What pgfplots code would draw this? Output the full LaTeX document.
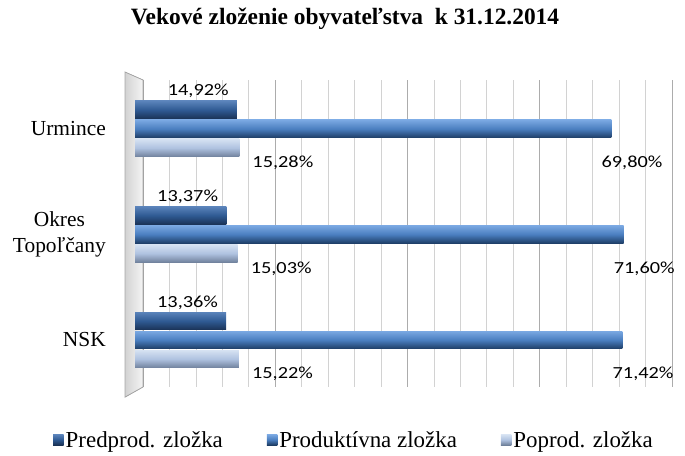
\documentclass[border=0pt]{standalone}
\usepackage{fontspec}
\setmainfont{Liberation Serif}
\newfontfamily\calibri{Carlito}[FakeStretch=1.2]
\usepackage{pgfplots}
\pgfplotsset{compat=1.18}
\definecolor{dTop}{HTML}{5A83BA}
\definecolor{dMid}{HTML}{2F5A93}
\definecolor{dBot}{HTML}{1A3255}
\definecolor{mTop}{HTML}{7AA8E2}
\definecolor{mMid}{HTML}{4A7EBF}
\definecolor{mBot}{HTML}{1D3C64}
\definecolor{lTop}{HTML}{D6E2F2}
\definecolor{lMid}{HTML}{AFC2E0}
\definecolor{lBot}{HTML}{6F809B}
\pgfplotsset{
  sqleg/.style={legend image code/.code={\path[##1] (0bp,-5bp) rectangle (10.5bp,5.5bp);}},
  dS/.style={draw=none, top color=dTop, bottom color=dBot, middle color=dMid, bar shift=-0.18, sqleg,
    every node near coord/.append style={anchor=base east, xshift=-8bp, yshift=14bp}},
  mS/.style={draw=none, top color=mTop, bottom color=mBot, middle color=mMid, bar shift=0, sqleg,
    every node near coord/.append style={anchor=north west, xshift=-10bp, yshift=-27bp}},
  lS/.style={draw=none, top color=lTop, bottom color=lBot, middle color=lMid, bar shift=0.18, sqleg,
    every node near coord/.append style={anchor=north west, xshift=13bp, yshift=-8bp}},
}
\begin{document}
\begin{tikzpicture}
\useasboundingbox (0bp,0bp) rectangle (685bp,456bp);
\node[font=\bfseries\fontsize{23.5}{27}\selectfont] at (345bp,437bp) {Vekové zloženie obyvateľstva\ \ k 31.12.2014};
% back wall with grid
\begin{axis}[at={(143bp,69bp)}, anchor=south west, scale only axis,
  width=529bp, height=307bp, xmin=0, xmax=80, ymin=0, ymax=1,
  xtick={0,20,40,60,80}, minor x tick num=4, xmajorgrids, xminorgrids,
  major grid style={gray!65, line width=0.8pt},
  minor grid style={gray!35, line width=0.8pt},
  ytick=\empty, xticklabels={}, axis line style={draw=none},
  major tick length=0pt, minor tick length=0pt, clip=false]
\fill[left color=gray!35, right color=gray!8] (axis cs:-2.72,1.026) -- (axis cs:0,1) -- (axis cs:0,0) -- (axis cs:-2.72,-0.033) -- cycle;
\draw[gray!70, line width=0.8pt] (axis cs:-2.72,1.026) -- (axis cs:0,1) -- (axis cs:0,0) -- (axis cs:-2.72,-0.033) -- cycle;
\end{axis}
% bars
\begin{axis}[at={(135bp,59bp)}, anchor=south west, scale only axis,
  width=546bp, height=324bp, xmin=0, xmax=80, ymin=-0.53, ymax=2.54,
  y dir=reverse, xbar, bar width=0.17,
  axis line style={draw=none}, major tick length=0pt, xtick=\empty,
  ytick={0,1,2}, yticklabels={Urmince,{Okres\\Topoľčany},NSK},
  yticklabel style={align=center, font=\fontsize{21.5}{26}\selectfont, inner sep=0pt, xshift=-29bp},
  clip=false, point meta=x,
  nodes near coords={\pgfmathprintnumber[fixed,fixed zerofill,precision=2,use comma,assume math mode=true]{\pgfplotspointmeta}\%},
  every node near coord/.append style={font=\calibri\fontsize{17}{20}\selectfont, inner sep=0pt, text=black},
  legend style={at={(0.5,0)}, anchor=center, xshift=-54bp, yshift=-43bp, draw=none, fill=none,
    font=\fontsize{23}{25}\selectfont, /tikz/every even column/.append style={column sep=42bp}},
  legend columns=3]
% Urmince
\addplot[dS] coordinates {(14.92,0)};
\addplot[mS] coordinates {(69.80,0)};
\addplot[lS] coordinates {(15.28,0)};
% Okres Topolcany
\addplot[dS, forget plot] coordinates {(13.37,1)};
\addplot[mS, forget plot] coordinates {(71.60,1)};
\addplot[lS, forget plot] coordinates {(15.03,1)};
% NSK
\addplot[dS, forget plot] coordinates {(13.36,2)};
\addplot[mS, forget plot] coordinates {(71.42,2)};
\addplot[lS, forget plot] coordinates {(15.22,2)};
\legend{Predprod. zložka, Produktívna zložka, Poprod. zložka}
\end{axis}
\end{tikzpicture}
\end{document}
